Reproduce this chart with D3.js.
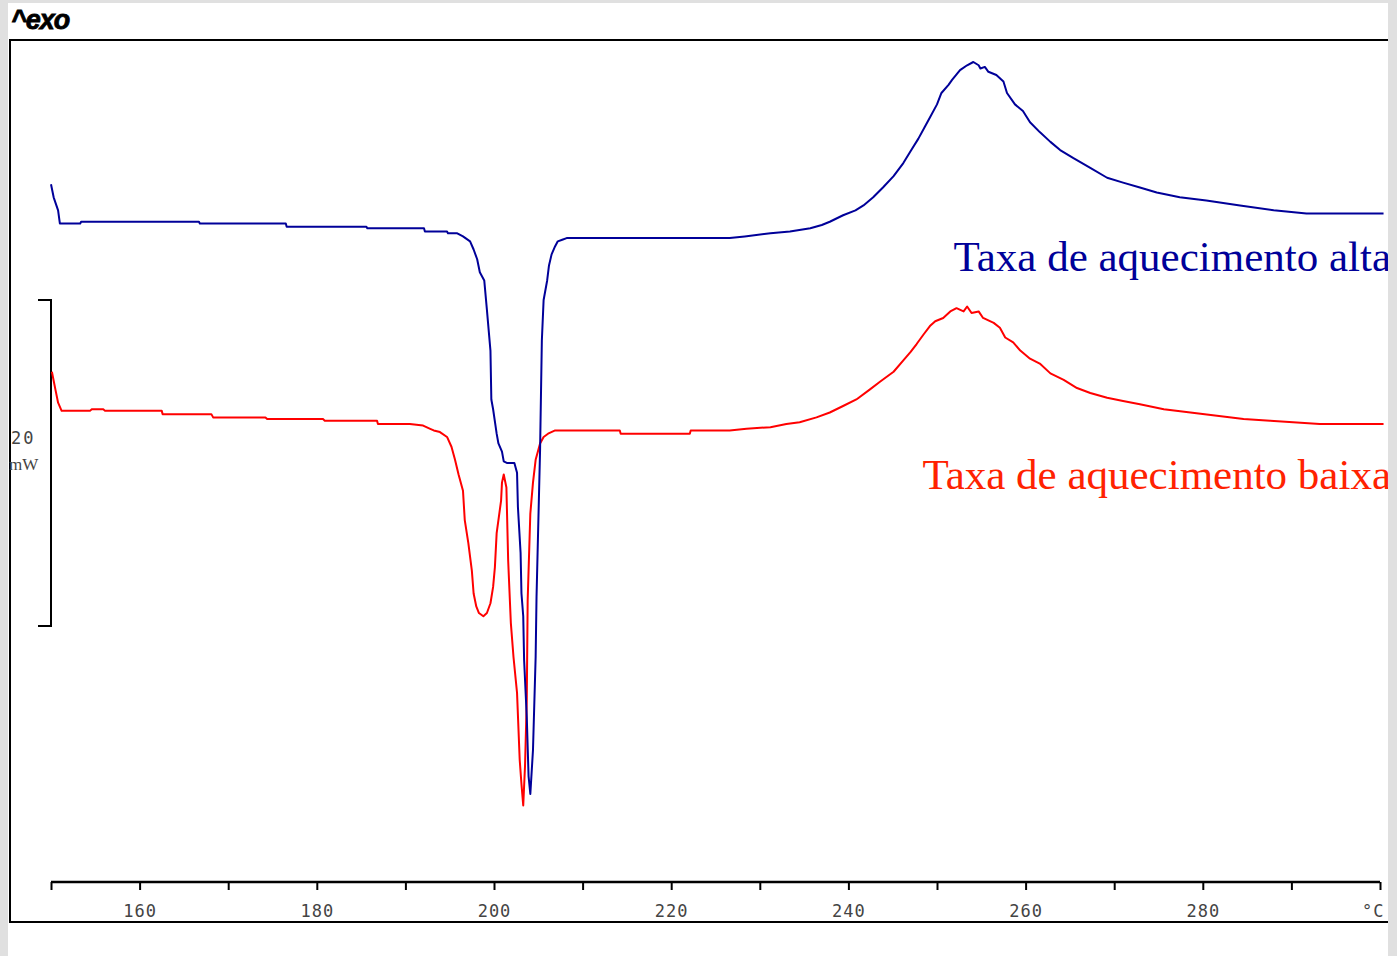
<!DOCTYPE html>
<html>
<head>
<meta charset="utf-8">
<script src="https://cdn.jsdelivr.net/npm/d3@7"></script>
<style>
  body { margin: 0; background: #e0e0e0; }
</style>
</head>
<body>
<div id="dsc_div"></div>
<script>
// temperature ticks (°C) and heat flow (mW)
var tickValues = [150, 160, 170, 180, 190, 200, 210, 220, 230, 240, 250, 260, 270, 280, 290, 300];
var tickLabels = {160: "160", 180: "180", 200: "200", 220: "220", 240: "240", 260: "260", 280: "280", 300: "°C"};

var blueT = [150.0, 150.3, 150.8, 151.0, 153.3, 153.4, 166.7, 166.8, 176.5, 176.6, 185.6, 185.7, 192.1, 192.2, 194.7, 194.8, 195.8, 196.5, 197.3, 197.7, 198.1, 198.4, 198.9, 199.2, 199.6, 199.7, 199.9, 200.3, 200.5, 200.9, 201.1, 201.5, 202.3, 202.6, 202.7, 203.0, 203.1, 203.3, 203.4, 203.7, 203.9, 204.1, 204.4, 204.7, 204.8, 205.2, 205.4, 205.6, 206.0, 206.2, 206.5, 206.9, 207.2, 207.7, 208.2, 226.6, 228.3, 231.2, 233.4, 235.7, 237.0, 237.9, 239.4, 240.8, 241.7, 242.8, 243.9, 245.1, 246.2, 247.1, 247.9, 248.6, 249.2, 250.0, 250.5, 251.3, 251.7, 252.6, 253.4, 254.1, 254.7, 254.9, 255.4, 255.8, 256.7, 257.5, 257.9, 258.8, 259.7, 260.5, 261.6, 262.8, 263.9, 265.4, 267.3, 269.2, 271.0, 272.9, 274.8, 277.4, 280.4, 284.2, 288.0, 291.7, 300.4];
var blueQ = [27.1, 26.3, 25.5, 24.7, 24.7, 24.8, 24.8, 24.7, 24.7, 24.5, 24.5, 24.4, 24.4, 24.2, 24.2, 24.1, 24.1, 23.9, 23.6, 23.1, 22.5, 21.7, 21.2, 19.4, 16.9, 13.9, 13.3, 11.8, 11.2, 10.7, 10.1, 10.0, 10.0, 9.4, 7.3, 4.5, 2.0, 0.6, -2.1, -5.6, -9.2, -10.3, -7.6, -1.9, 1.8, 10.8, 17.5, 20.0, 21.2, 22.1, 22.8, 23.3, 23.6, 23.7, 23.8, 23.8, 23.9, 24.1, 24.2, 24.4, 24.6, 24.8, 25.2, 25.5, 25.8, 26.3, 26.9, 27.6, 28.4, 29.2, 29.9, 30.6, 31.2, 32.0, 32.7, 33.2, 33.5, 34.1, 34.4, 34.6, 34.4, 34.2, 34.3, 34.0, 33.8, 33.4, 32.7, 32.0, 31.6, 30.9, 30.3, 29.7, 29.2, 28.7, 28.1, 27.5, 27.2, 26.9, 26.6, 26.3, 26.1, 25.8, 25.5, 25.3, 25.3];

var redT = [150.1, 150.5, 150.8, 151.2, 154.4, 154.6, 155.9, 156.1, 162.5, 162.6, 168.1, 168.3, 174.2, 174.4, 180.7, 180.9, 186.8, 186.9, 190.5, 192.0, 192.8, 193.2, 193.9, 194.7, 195.2, 195.6, 196.0, 196.5, 196.7, 197.1, 197.5, 197.7, 198.0, 198.3, 198.8, 199.2, 199.6, 199.9, 200.1, 200.3, 200.8, 200.9, 201.1, 201.4, 201.6, 201.9, 202.2, 202.6, 202.9, 203.1, 203.3, 203.5, 203.7, 203.8, 204.1, 204.4, 204.7, 205.2, 205.6, 206.1, 206.9, 214.2, 214.3, 222.1, 222.2, 226.6, 228.5, 231.2, 233.0, 234.5, 236.4, 237.9, 239.4, 240.9, 242.4, 243.6, 245.1, 246.2, 247.0, 247.7, 248.5, 249.2, 249.8, 250.7, 251.5, 252.2, 253.0, 253.4, 253.9, 254.7, 255.2, 256.4, 257.1, 257.7, 258.6, 259.4, 260.5, 261.6, 262.8, 264.3, 265.8, 267.3, 269.2, 271.0, 272.9, 275.6, 278.6, 281.6, 284.6, 287.6, 293.2, 300.4];
var redQ = [15.6, 14.5, 13.7, 13.2, 13.2, 13.3, 13.3, 13.2, 13.2, 13.0, 13.0, 12.8, 12.8, 12.7, 12.7, 12.6, 12.6, 12.4, 12.4, 12.3, 12.1, 12.0, 11.9, 11.6, 11.0, 10.2, 9.3, 8.3, 6.5, 5.1, 3.4, 2.0, 1.2, 0.8, 0.6, 0.8, 1.4, 2.4, 3.6, 5.7, 7.7, 8.8, 9.3, 8.5, 4.0, 0.2, -1.9, -4.1, -8.2, -9.7, -11.0, -8.6, -4.5, 1.6, 6.9, 8.8, 10.2, 11.2, 11.6, 11.8, 12.0, 12.0, 11.8, 11.8, 12.0, 12.0, 12.1, 12.2, 12.4, 12.5, 12.8, 13.1, 13.5, 13.9, 14.5, 15.0, 15.6, 16.3, 16.8, 17.3, 17.9, 18.4, 18.7, 18.9, 19.3, 19.5, 19.3, 19.6, 19.2, 19.3, 18.9, 18.6, 18.3, 17.7, 17.4, 16.9, 16.4, 16.1, 15.5, 15.1, 14.6, 14.3, 14.0, 13.8, 13.6, 13.3, 13.1, 12.9, 12.7, 12.6, 12.4, 12.4];

var seriesNames = ["Taxa de aquecimento alta", "Taxa de aquecimento baixa"];
var scaleBarMW = 20;

var W = 1397, H = 956;

var svg = d3.select("#dsc_div")
  .append("svg")
  .attr("width", W)
  .attr("height", H)
  .style("display", "block");

// page background with white sheet
svg.append("rect").attr("x", 0).attr("y", 0).attr("width", W).attr("height", H).attr("fill", "#e0e0e0");
svg.append("rect").attr("x", 8).attr("y", 3).attr("width", 1380).attr("height", H - 3).attr("fill", "#fff");

var xScale = d3.scaleLinear().domain([150, 300]).range([51, 1380]);
var yScale = d3.scaleLinear().domain([-15.7, 35.95]).range([882, 40]);

// frame (right side falls off the sheet)
svg.append("path")
  .attr("d", "M1388,40 H10 V922 H1388")
  .attr("fill", "none")
  .attr("stroke", "#000")
  .attr("stroke-width", 2);

svg.append("text")
  .attr("x", 11)
  .attr("y", 29)
  .attr("font-family", "Liberation Sans, Arial, sans-serif")
  .attr("font-weight", "bold")
  .attr("font-style", "italic")
  .attr("font-size", "27px")
  .attr("letter-spacing", "-1px")
  .attr("stroke", "#000")
  .attr("stroke-width", 0.8)
  .attr("fill", "#000")
  .text("^exo");

// x axis
var xAxis = d3.axisBottom(xScale)
  .tickValues(tickValues)
  .tickSize(8)
  .tickPadding(15)
  .tickFormat(function(d) { return tickLabels[d] || ""; });

var gx = svg.append("g")
  .attr("class", "x_axis")
  .attr("transform", "translate(0,882)")
  .call(xAxis);
gx.select(".domain").attr("stroke", "#000").attr("stroke-width", 2.5).attr("d", "M51,0H1380");
gx.selectAll(".tick line").attr("stroke", "#000").attr("stroke-width", 2);
gx.selectAll(".tick text")
  .attr("font-family", "DejaVu Sans Mono, monospace")
  .attr("font-size", "17px")
  .attr("fill", "#444")
  .attr("letter-spacing", "1px");
gx.selectAll(".tick text").filter(function(d) { return d == 300; }).attr("text-anchor", "end").attr("dx", "4");

// 20 mW scale bar
var barX = xScale(150);
svg.append("path")
  .attr("d", "M" + (barX - 13) + "," + yScale(scaleBarMW) + "H" + barX + "V" + yScale(0) + "H" + (barX - 13))
  .attr("fill", "none")
  .attr("stroke", "#000")
  .attr("stroke-width", 2);
svg.append("text")
  .attr("x", 11).attr("y", 444)
  .attr("font-family", "DejaVu Sans Mono, monospace")
  .attr("font-size", "17px")
  .attr("letter-spacing", "2px")
  .attr("fill", "#444")
  .text(scaleBarMW);
svg.append("text")
  .attr("x", 9).attr("y", 470)
  .attr("font-family", "Liberation Serif, serif")
  .attr("font-size", "17px")
  .attr("fill", "#444")
  .text("mW");

// curves
var line = d3.line()
  .x(function(d) { return xScale(d[0]); })
  .y(function(d) { return yScale(d[1]); });

var blueData = d3.zip(blueT, blueQ);
var redData = d3.zip(redT, redQ);

svg.append("path")
  .datum(redData)
  .attr("d", line)
  .attr("fill", "none")
  .attr("stroke", "#ff0000")
  .attr("stroke-width", 2)
  .attr("stroke-linejoin", "round");

svg.append("path")
  .datum(blueData)
  .attr("d", line)
  .attr("fill", "none")
  .attr("stroke", "#000099")
  .attr("stroke-width", 2)
  .attr("stroke-linejoin", "round");

// labels
svg.append("text")
  .attr("x", 1391).attr("y", 271)
  .attr("text-anchor", "end")
  .attr("font-family", "Liberation Serif, Times New Roman, serif")
  .attr("font-size", "43px")
  .attr("fill", "#000099")
  .text(seriesNames[0]);

svg.append("text")
  .attr("x", 1391).attr("y", 489)
  .attr("text-anchor", "end")
  .attr("font-family", "Liberation Serif, Times New Roman, serif")
  .attr("font-size", "43px")
  .attr("fill", "#ff2200")
  .text(seriesNames[1]);

// right margin strip drawn last so labels are cut like the original
svg.append("rect").attr("x", 1388).attr("y", 0).attr("width", 9).attr("height", H).attr("fill", "#e0e0e0");
</script>
</body>
</html>
